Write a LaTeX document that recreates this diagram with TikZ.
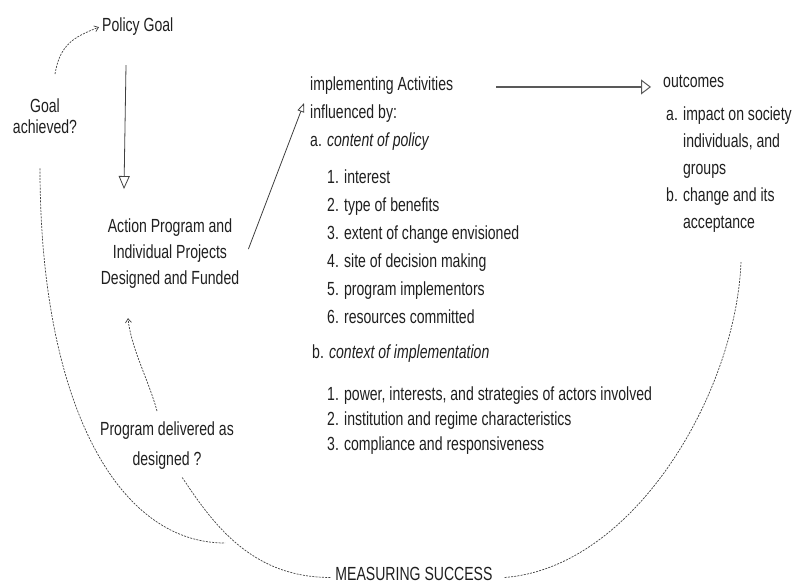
\documentclass[tikz,border=0pt]{standalone}
\usepackage{fontspec}
\setmainfont{Liberation Sans}[FakeStretch=0.74]
\usetikzlibrary{arrows.meta}

\begin{document}
\begin{tikzpicture}[x=1pt,y=-1pt,>=Latex]
  \tikzstyle{txt}=[inner sep=2pt,text=black!88,align=left,font=\fontsize{19}{28}\selectfont]
  \tikzstyle{flow}=[draw=black!75,line width=0.8pt]
  \tikzstyle{bigflow}=[draw=black!65,line width=1.8pt]
  \tikzstyle{feedback}=[draw=black!75,line width=0.7pt,dash pattern=on 2pt off 1.2pt]
  \tikzstyle{opentip}=[-{Triangle[open,length=13pt,width=11pt,line width=0.8pt]}]
  \tikzstyle{barbtip}=[-{Straight Barb[length=4pt,width=6pt]}]
  \useasboundingbox (0,0) rectangle (792,586);
  % left column (anchors sit on the last baseline)
  \node[txt,anchor=base west] (pgoal) at (100,32) {Policy Goal};
  \node[txt,anchor=base,align=center,font=\fontsize{19}{21}\selectfont] (goal) at (45,133) {Goal\\achieved?};
  \node[txt,anchor=base,align=center,font=\fontsize{19}{26}\selectfont] (action) at (170,284) {Action Program and\\Individual Projects\\Designed and Funded};
  \node[txt,anchor=base,align=center,font=\fontsize{19}{30}\selectfont] (program) at (167,465) {Program delivered as\\designed ?};
  % middle column
  \node[txt,anchor=base west] (act) at (308,146) {implementing Activities\\influenced by:\\a. \textit{content of policy}};
  \node[txt,anchor=base west] (content) at (325,323) {1. interest\\2. type of benefits\\3. extent of change envisioned\\4. site of decision making\\5. program implementors\\6. resources committed};
  \node[txt,anchor=base west] (bhead) at (310,358) {b. \textit{context of implementation}};
  \node[txt,anchor=base west,font=\fontsize{19}{25}\selectfont] (context) at (325,450) {1. power, interests, and strategies of actors involved\\2. institution and regime characteristics\\3. compliance and responsiveness};
  % right column
  \node[txt,anchor=base west] (outc) at (661,87) {outcomes};
  \node[txt,anchor=base west,font=\fontsize{19}{27}\selectfont] (outlist) at (664,228) {a. impact on society\\\phantom{a. }individuals, and\\\phantom{a. }groups\\b. change and its\\\phantom{b. }acceptance};
  \node[txt,anchor=base] (measure) at (414,580) {MEASURING SUCCESS};
  \coordinate (lowend) at (225,543);
  % solid flow
  \draw[flow,opentip] ([shift={(26,27)}]pgoal.south west) -- ([shift={(-46,-27)}]action.north);
  \draw[flow,-{Triangle[open,length=9pt,width=7pt,line width=0.8pt]}] ([shift={(7,-4)}]action.east) -- ([shift={(-4,-10)}]act.west);
  \draw[bigflow,-{Triangle[open,length=10pt,width=15pt,line width=1pt]}] ([shift={(-165,6)}]outc.west) -- ([shift={(-10,6)}]outc.west);
  % feedback loops
  \draw[feedback,barbtip] ([shift={(10,-22)}]goal.north) .. controls +(5,-30) and +(-25,10) .. ([xshift=-1pt]pgoal.west);
  \draw[feedback,barbtip] ([shift={(-10,-8)}]program.north) .. controls +(-8,-30) and +(3,30) .. ([shift={(-42,28)}]action.south);
  \draw[feedback] ([shift={(-5,33)}]goal.south) .. controls +(0,230) and +(-110,0) .. (lowend);
  \draw[feedback] ([shift={(-3,4)}]measure.west) .. controls +(-80,0) and +(30,45) .. ([shift={(15,6)}]program.south);
  \draw[feedback] ([shift={(10,4)}]measure.east) .. controls +(130,-10) and +(-5,130) .. ([shift={(12,28)}]outlist.south);
\end{tikzpicture}
\end{document}
